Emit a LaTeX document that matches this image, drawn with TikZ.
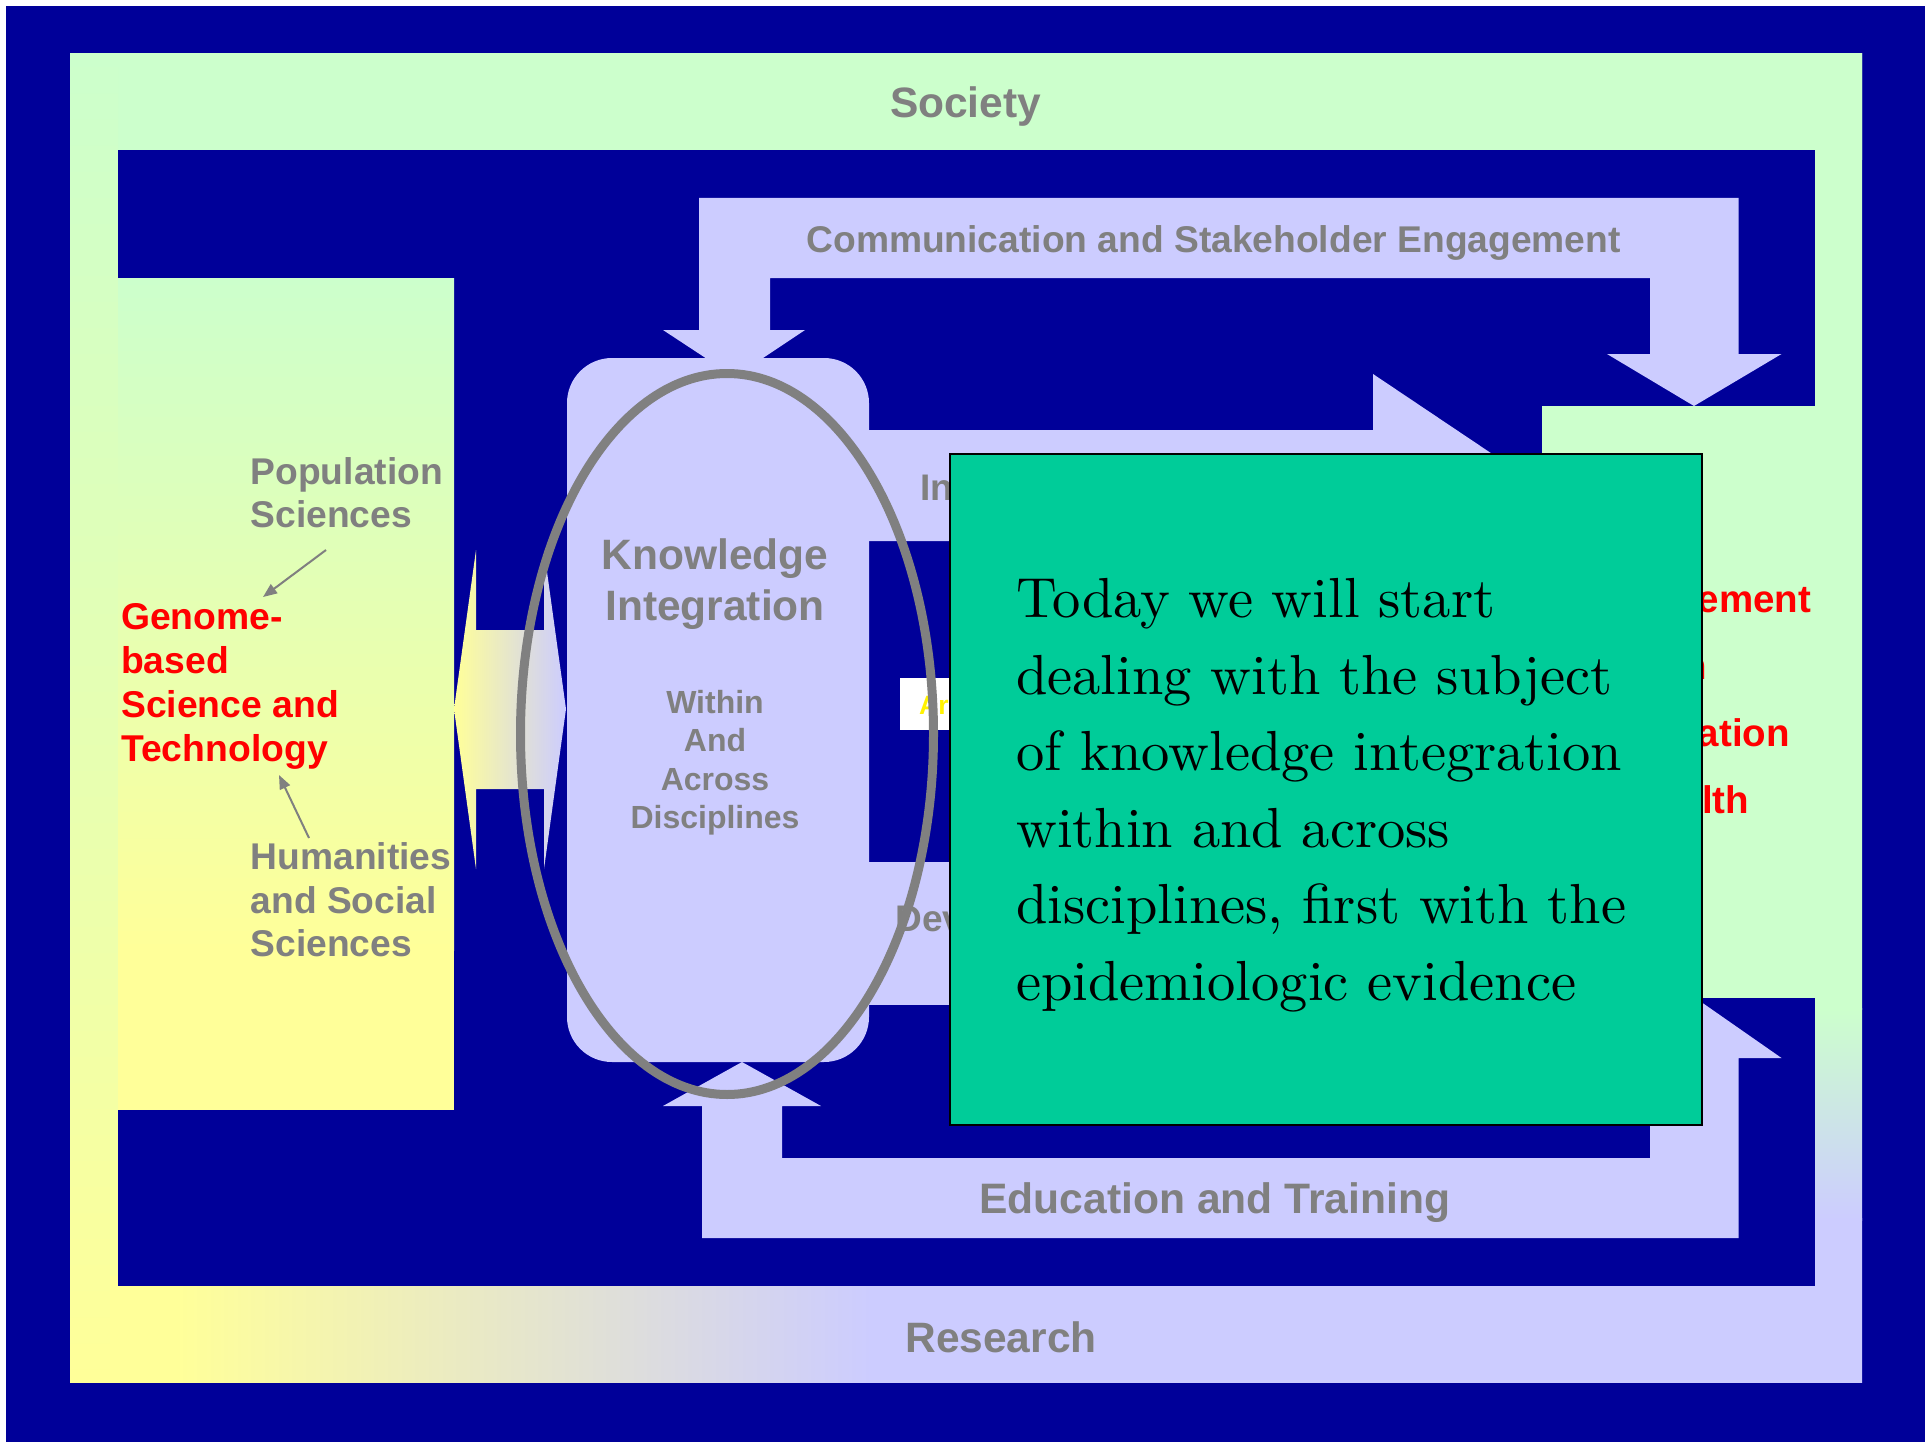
\documentclass[tikz,border=0pt]{standalone}
\usepackage{fontspec}
\setsansfont{Liberation Sans}
\newfontfamily\notefont{lmroman10-regular.otf}
\usetikzlibrary{arrows.meta}
\definecolor{navy}{HTML}{000099}
\definecolor{lav}{HTML}{CCCCFF}
\definecolor{mint}{HTML}{CCFFCC}
\definecolor{cream}{HTML}{FFFF99}
\definecolor{sea}{HTML}{00CC99}
\definecolor{slate}{HTML}{808080}
\tikzset{
  sans/.style={inner sep=0pt, font=\sffamily\bfseries\fontsize{#1}{#1}\selectfont},
  greylbl/.style={sans=#1, text=slate},
  redlbl/.style={sans=#1, text=red},
  band/.style={fill=lav},
  pointer/.style={draw=slate, line width=2pt, -{Triangle[length=14pt,width=11pt]}},
  notetext/.style={inner sep=0pt, anchor=base west, font=\notefont\fontsize{56.5}{76.6}\selectfont, text=black}
}
\begin{document}
\begin{tikzpicture}[x=1pt,y=-1pt]
\useasboundingbox (0,0) rectangle (1925,1442);
\fill[white] (0,0) rectangle (1925,1442);
\fill[navy] (6,6) rectangle (1925,1442);

% outer frame (Society / Research), pieces overlap and are clipped to the frame
\begin{scope}
  \clip (70,54) rectangle (1862,1382);
  \fill[mint] (60,44) rectangle (1872,160);
  \shade[top color=mint, bottom color=cream] (70,54) rectangle (118,1382);
  \fill[mint] (1800,44) rectangle (1872,1010);
  \shade[top color=mint, bottom color=lav] (1800,1008) rectangle (1862,1220);
  \fill[lav] (1800,1218) rectangle (1872,1392);
  \fill[cream] (110,1276) rectangle (178,1392);
  \shade[left color=cream, right color=lav] (176,1276) rectangle (872,1392);
  \fill[lav] (870,1276) rectangle (1802,1392);
\end{scope}
\fill[navy] (118,150) rectangle (1815,1286);

% left panel and right panel
\shade[top color=mint, bottom color=cream] (118,278) rectangle (454,950);
\fill[cream] (118,949) rectangle (454,1110);
\fill[mint] (1542,406) rectangle (1815,998);

% communication loop (top)
\fill[band] (699,198) -- (1738.5,198) -- (1738.5,354) -- (1781.5,354) -- (1694,406)
  -- (1607,354) -- (1650,354) -- (1650,278) -- (770,278) -- (770,330) -- (805,330)
  -- (734.5,377) -- (663,330) -- (699,330) -- cycle;

% education loop (bottom)
\fill[band] (702,1238) -- (1738.5,1238) -- (1738.5,1058) -- (1781.5,1058) -- (1694,997)
  -- (1606.5,1058) -- (1650,1058) -- (1650,1158) -- (782,1158) -- (782,1106)
  -- (821,1106) -- (742,1062) -- (663,1106) -- (702,1106) -- cycle;

% middle bands
\fill[band] (860,430) -- (1373,430) -- (1373,374) -- (1540,486) -- (1373,598)
  -- (1373,541) -- (860,541) -- cycle;
\fill[band] (860,862) rectangle (1560,1005);

% knowledge box
\fill[lav, rounded corners=45pt] (567,358) rectangle (869,1062);

% double arrow between panel and knowledge box
\shade[left color=cream, right color=lav] (454,709) -- (476,550) -- (476,630) -- (544,630)
  -- (544,550) -- (566,709) -- (544,869) -- (544,789) -- (476,789) -- (476,869) -- cycle;

% small white label
\fill[white] (900,678) rectangle (960,730);
\node[sans=26.5, text=yellow, anchor=base west] (ar) at (919,714) {Ar};

% frame and loop labels
\node[greylbl=42.5, anchor=base] (society) at (965.6,118) {Society};
\node[greylbl=37.2, anchor=base] (comm) at (1213.6,252) {Communication and Stakeholder Engagement};
\node[greylbl=42.6, anchor=base] (edu) at (1214.8,1213) {Education and Training};
\node[greylbl=42.5, anchor=base] (research) at (1001,1352) {Research};
\node[greylbl=37, anchor=base west] (impl) at (920.5,500) {In};
\node[greylbl=37, anchor=base west] (dev) at (895.5,931) {Dev};

% knowledge box labels
\node[greylbl=42.5, anchor=base] (kn1) at (715,569) {Knowledge};
\node[greylbl=42.5, anchor=base] (kn2) at (715,620) {Integration};
\node[greylbl=32, anchor=base] (wa1) at (715,713) {Within};
\node[greylbl=32, anchor=base] (wa2) at (715,751.5) {And};
\node[greylbl=32, anchor=base] (wa3) at (715,790) {Across};
\node[greylbl=32, anchor=base] (wa4) at (715,828.5) {Disciplines};

% left panel labels
\node[greylbl=37.2, anchor=base west] (pop1) at (250.5,484) {Population};
\node[greylbl=37.2, anchor=base west] (pop2) at (250.5,527) {Sciences};
\node[redlbl=37.3, anchor=base west] (gen1) at (121,629) {Genome-};
\node[redlbl=37.3, anchor=base west] (gen2) at (121,673) {based};
\node[redlbl=37.3, anchor=base west] (gen3) at (121,717) {Science and};
\node[redlbl=37.3, anchor=base west] (gen4) at (121,761) {Technology};
\node[greylbl=37.2, anchor=base west] (hum1) at (250.5,869) {Humanities};
\node[greylbl=37.2, anchor=base west] (hum2) at (250.5,913) {and Social};
\node[greylbl=37.2, anchor=base west] (hum3) at (250.5,956) {Sciences};
\coordinate (popTail) at (326,550);
\coordinate (popHead) at (263,597);
\coordinate (humTail) at (309,838);
\coordinate (humHead) at (279,775);
\draw[pointer] (popTail) -- (popHead);
\draw[pointer] (humTail) -- (humHead);

% right panel labels (ends of the lines left of the note card)
\node[redlbl=38.5, anchor=base east] (ph1) at (1811.4,612) {ement};
\node[redlbl=38.5, anchor=base east] (ph2) at (1707.6,679) {n};
\node[redlbl=38.5, anchor=base east] (ph3) at (1790,746) {ation};
\node[redlbl=38.5, anchor=base east] (ph4) at (1749.3,813) {lth};

% ring around the knowledge box
\draw[slate, line width=9pt] (727,734) ellipse [x radius=206.5, y radius=360.5];

% note card
\filldraw[fill=sea, draw=black, line width=2pt] (950,454) rectangle (1702,1125);
\node[notetext] (n1) at (1016,617.5) {Today we will start};
\node[notetext] (n2) at (1016,694.1) {dealing with the subject};
\node[notetext] (n3) at (1016,770.7) {of knowledge integration};
\node[notetext] (n4) at (1016,847.3) {within and across};
\node[notetext] (n5) at (1016,923.9) {disciplines, first with the};
\node[notetext] (n6) at (1016,1000.5) {epidemiologic evidence};
\end{tikzpicture}
\end{document}
